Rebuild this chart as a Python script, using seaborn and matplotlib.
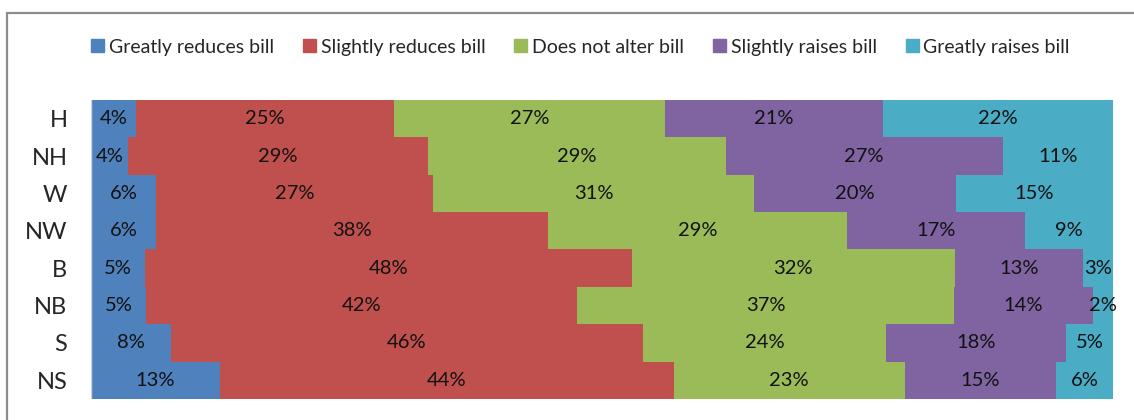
import numpy as np
import pandas as pd
import matplotlib
matplotlib.use("Agg")
import matplotlib.pyplot as plt
import matplotlib.patches as mpatches
import seaborn as sns

# data (percent of respondents)
groups = ["H", "NH", "W", "NW", "B", "NB", "S", "NS"]
series = ["Greatly reduces bill", "Slightly reduces bill", "Does not alter bill",
          "Slightly raises bill", "Greatly raises bill"]
greatly_reduces = [4.4, 3.6, 6.4, 6.4, 5.3, 5.4, 7.8, 12.6]
slightly_reduces = [25.2, 29.4, 27.1, 38.3, 47.6, 42.2, 46.2, 44.4]
does_not_alter = [26.6, 29.1, 31.4, 29.3, 31.6, 36.8, 23.8, 22.6]
slightly_raises = [21.3, 27.1, 19.7, 17.4, 12.6, 13.6, 17.6, 14.8]
greatly_raises = [22.5, 10.8, 15.4, 8.6, 2.9, 2.0, 4.6, 5.6]

colors = ["#4F81BD", "#C0504D", "#9BBB59", "#8064A2", "#4BACC6"]

sns.set_style("white")
plt.rcParams["font.family"] = ["Lato", "DejaVu Sans"]

df = pd.DataFrame({
    "group": groups,
    series[0]: greatly_reduces,
    series[1]: slightly_reduces,
    series[2]: does_not_alter,
    series[3]: slightly_raises,
    series[4]: greatly_raises,
})
cum = df[series].cumsum(axis=1)

fig = plt.figure(figsize=(11.34, 4.2), dpi=100)
ax = fig.add_axes([91 / 1134, 1 - 399 / 420, 1022 / 1134, 299 / 420])

# stacked bars: draw cumulative totals from the outermost segment inwards
for s, c in reversed(list(zip(series, colors))):
    sns.barplot(x=cum[s], y=df["group"], orient="h", color=c, saturation=1,
                width=1.0, linewidth=0, ax=ax)

for i, row in df.iterrows():
    left = 0.0
    for s in series:
        v = row[s]
        ax.text(left + v / 2, i, f"{v:.0f}%", ha="center", va="center",
                fontsize=14.5, color="#111111")
        left += v

ax.set_xlim(0, 100)
ax.set_ylim(len(groups) - 0.5, -0.5)
ax.set_xlabel("")
ax.set_ylabel("")
ax.set_xticks([])
ax.tick_params(axis="y", length=0, pad=17, labelsize=17)
for sp in ax.spines.values():
    sp.set_visible(False)
ax.axvline(0, color="#c9d3e3", linewidth=1)

handles = [mpatches.Patch(color=c, label=s) for s, c in zip(series, colors)]
fig.legend(handles=handles, loc="center", bbox_to_anchor=(0.512, 0.888), ncol=5,
           frameon=False, fontsize=14, handlelength=0.65, handleheight=0.65,
           handletextpad=0.25, columnspacing=1.5)

# outer chart border
fig.patches.append(mpatches.Rectangle((7 / 1134, -0.2), 1.2, 1.2 - 13 / 420,
                                      transform=fig.transFigure, fill=False,
                                      edgecolor="#8c8c8c", linewidth=1.6))

fig.savefig("out.png", dpi=100)
